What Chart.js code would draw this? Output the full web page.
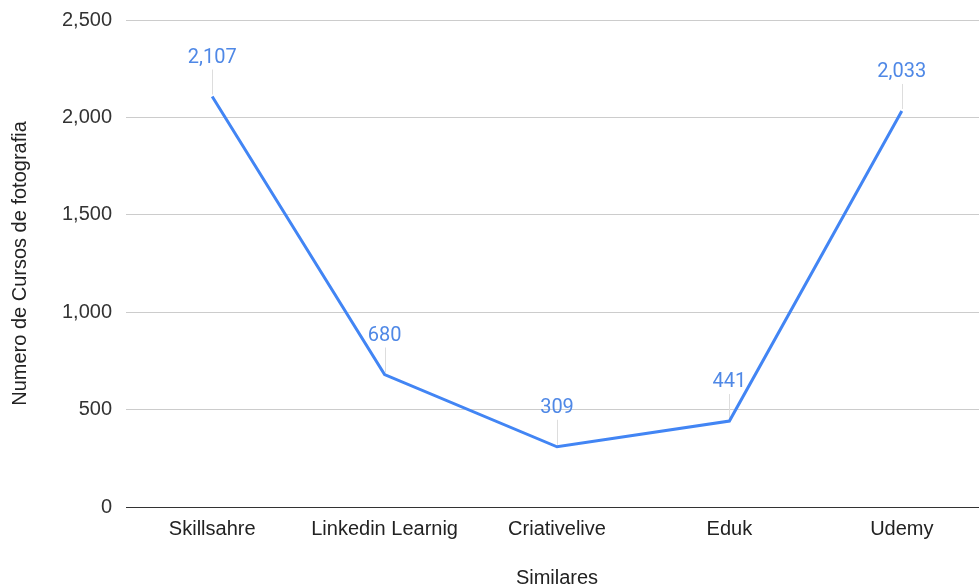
<!DOCTYPE html>
<html>
<head>
<meta charset="utf-8">
<script src="https://cdn.jsdelivr.net/npm/chart.js@4"></script>
<style>
  html, body { margin: 0; padding: 0; background: #fff; overflow: hidden; }
  #wrap { width: 979px; height: 588px; overflow: hidden; }
  #box { width: 990px; height: 588px; }
</style>
</head>
<body>
<div id="wrap"><div id="box"><canvas id="chart"></canvas></div></div>
<script>
const categories = ["Skillsahre", "Linkedin Learnig", "Criativelive", "Eduk", "Udemy"]
const cursos = [2107, 680, 309, 441, 2033]
const yTicks = [0, 500, 1000, 1500, 2000, 2500]

const fmt = v => v.toLocaleString("en-US")

// value labels with a thin leader line, Google Sheets style
const valueLabels = {
  id: "valueLabels",
  beforeDatasetsDraw(chart) {
    const ctx = chart.ctx
    const meta = chart.getDatasetMeta(0)
    ctx.save()
    ctx.strokeStyle = "#dddddd"
    ctx.lineWidth = 1
    meta.data.forEach(pt => {
      ctx.beginPath()
      ctx.moveTo(Math.round(pt.x) + 0.5, pt.y - 2)
      ctx.lineTo(Math.round(pt.x) + 0.5, pt.y - 27)
      ctx.stroke()
    })
    ctx.restore()
  },
  afterDatasetsDraw(chart) {
    const ctx = chart.ctx
    const meta = chart.getDatasetMeta(0)
    ctx.save()
    ctx.font = "20px Roboto, 'Liberation Sans', Arial, sans-serif"
    ctx.fillStyle = "#4f88e6"
    ctx.textAlign = "center"
    ctx.textBaseline = "middle"
    meta.data.forEach((pt, i) => {
      ctx.fillText(fmt(cursos[i]), pt.x, pt.y - 39)
    })
    ctx.restore()
  }
}

const axisFont = { family: "'Liberation Sans', Arial, sans-serif", size: 20 }

new Chart(document.getElementById("chart"), {
  type: "line",
  data: {
    labels: categories,
    datasets: [{
      data: cursos,
      borderColor: "#4285f4",
      borderWidth: 3,
      pointRadius: 0,
      tension: 0,
      fill: false
    }]
  },
  options: {
    responsive: true,
    maintainAspectRatio: false,
    animation: false,
    layout: { padding: { top: 20, right: 2, bottom: 0, left: 0 } },
    plugins: { legend: { display: false }, tooltip: { enabled: false } },
    scales: {
      x: {
        offset: true,
        grid: { display: false },
        border: { display: false },
        ticks: { color: "#222", font: axisFont, padding: 2, maxRotation: 0 },
        title: { display: true, text: "Similares", color: "#222", font: axisFont, padding: { top: 0, bottom: -2 } },
        afterFit(scale) { scale.height = 81 }
      },
      y: {
        min: 0,
        max: 2500,
        afterBuildTicks(scale) { scale.ticks = yTicks.map(v => ({ value: v })) },
        grid: {
          drawTicks: false,
          color: c => c.tick && c.tick.value === 0 ? "#333333" : "#cccccc",
          lineWidth: 1
        },
        border: { display: false },
        ticks: { color: "#333", font: axisFont, padding: 14, callback: v => fmt(v) },
        title: { display: true, text: "Numero de Cursos de fotografia", color: "#222", font: axisFont, padding: { top: 8, bottom: 0 } },
        afterFit(scale) {
          scale.width = 126
          scale.paddingTop = 0
          scale.paddingBottom = 0
        }
      }
    }
  },
  plugins: [valueLabels]
})
</script>
</body>
</html>
